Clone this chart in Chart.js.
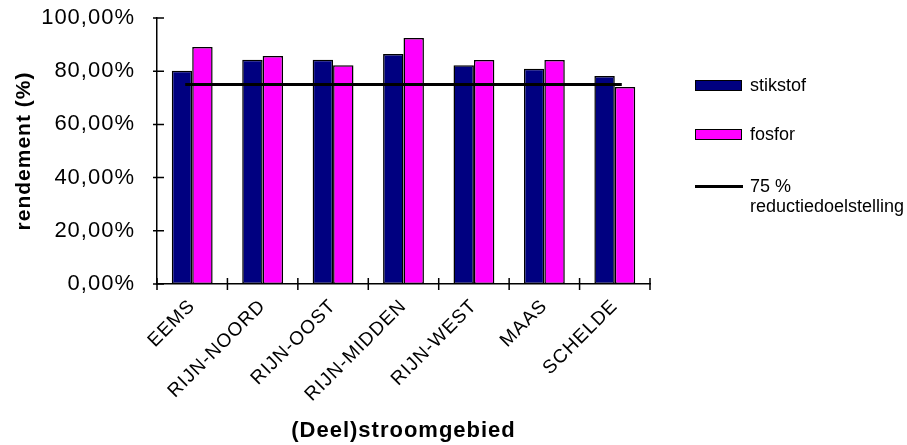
<!DOCTYPE html>
<html>
<head>
<meta charset="utf-8">
<script src="https://cdn.jsdelivr.net/npm/chart.js@4.4.1/dist/chart.umd.min.js"></script>
<style>
  html, body { margin: 0; padding: 0; background: #fff; }
  #wrap { position: relative; width: 907px; height: 445px; }
  #legend { position: absolute; left: 695px; top: 0; font-family: "Liberation Sans", Arial, sans-serif; font-size: 18px; color: #000; }
  .item { position: absolute; left: 0; white-space: nowrap; }
  .swatch { position: absolute; left: 0; width: 45px; height: 9px; border: 1px solid #000; }
  .dash { position: absolute; left: 0; width: 48px; height: 3px; background: #000; }
  .txt { position: absolute; left: 55px; line-height: 20px; }
</style>
</head>
<body>
<div id="wrap">
  <canvas id="chart" width="907" height="445"></canvas>
  <div id="legend">
    <div class="item" style="top:80px"><div class="swatch" style="background:#000080"></div><div class="txt" style="top:-5px">stikstof</div></div>
    <div class="item" style="top:129px"><div class="swatch" style="background:#ff00ff"></div><div class="txt" style="top:-5px">fosfor</div></div>
    <div class="item" style="top:185px"><div class="dash"></div><div class="txt" style="top:-9px">75 %<br>reductiedoelstelling</div></div>
  </div>
</div>
<script>
// (Deel)stroomgebieden en rendementen in %
const gebieden = ['EEMS', 'RIJN-NOORD', 'RIJN-OOST', 'RIJN-MIDDEN', 'RIJN-WEST', 'MAAS', 'SCHELDE'];
const stikstof = [80.2, 84.3, 84.3, 86.5, 82.2, 80.9, 78.2];
const fosfor = [89.1, 85.7, 82.2, 92.5, 84.2, 84.2, 74.1];
const doelstelling = [75, 75, 75, 75, 75, 75, 75];
const yTicks = [0, 20, 40, 60, 80, 100];

const FONT = '"Liberation Sans", Arial, sans-serif';

// tekst in het origineel staat wat ruimer; canvas-state wordt bij resize gewist
const spacing = {
  id: 'spacing',
  beforeUpdate(chart) { chart.ctx.letterSpacing = '1px'; },
  beforeDraw(chart) { chart.ctx.letterSpacing = '1px'; }
};

// Excel-achtige kruisende maatstreepjes
const crossTicks = {
  id: 'crossTicks',
  afterDraw(chart) {
    const ctx = chart.ctx;
    const x = chart.scales.x;
    const y = chart.scales.y;
    const left = chart.chartArea.left;
    const bottom = chart.chartArea.bottom;
    ctx.save();
    ctx.strokeStyle = '#000';
    ctx.lineWidth = 1.5;
    ctx.beginPath();
    yTicks.forEach(v => {
      const py = y.getPixelForValue(v);
      ctx.moveTo(left - 4, py);
      ctx.lineTo(left + 7, py);
    });
    const half = (x.getPixelForValue(1) - x.getPixelForValue(0)) / 2;
    for (let i = 0; i <= gebieden.length; i++) {
      const px = x.getPixelForValue(0) - half + 2 * half * i;
      ctx.moveTo(px, bottom - 6);
      ctx.lineTo(px, bottom + 6);
    }
    ctx.stroke();
    ctx.restore();
  }
};

new Chart(document.getElementById('chart').getContext('2d'), {
  type: 'bar',
  data: {
    labels: gebieden,
    datasets: [
      {
        type: 'line',
        label: '75 % reductiedoelstelling',
        data: doelstelling,
        borderColor: '#000',
        borderWidth: 3,
        pointStyle: 'line',
        pointRadius: 7,
        pointBorderWidth: 3,
        pointBorderColor: '#000',
        fill: false,
        order: 0
      },
      {
        label: 'stikstof',
        data: stikstof,
        backgroundColor: '#000080',
        borderColor: '#000',
        borderWidth: 1.5,
        borderSkipped: false,
        order: 1
      },
      {
        label: 'fosfor',
        data: fosfor,
        backgroundColor: '#ff00ff',
        borderColor: '#000',
        borderWidth: 1.5,
        borderSkipped: false,
        order: 1
      }
    ]
  },
  options: {
    responsive: false,
    animation: false,
    datasets: {
      bar: { barPercentage: 1, categoryPercentage: 0.58 }
    },
    layout: { padding: { left: 0, right: 257, top: 18, bottom: 0 } },
    plugins: {
      legend: { display: false },
      tooltip: { enabled: false }
    },
    scales: {
      x: {
        grid: { display: false, drawTicks: false, offset: true },
        border: { display: true, color: '#000', width: 1.5 },
        ticks: {
          color: '#000',
          font: { family: FONT, size: 19 },
          minRotation: 45,
          maxRotation: 45,
          padding: 11
        },
        title: {
          display: true,
          text: '(Deel)stroomgebied',
          color: '#000',
          font: { family: FONT, size: 22, weight: 'bold' },
          padding: { top: 0, bottom: 1 }
        },
        afterFit(scale) { scale.height = 161; }
      },
      y: {
        min: 0,
        max: 100,
        grid: { display: false, drawTicks: false },
        border: { display: true, color: '#000', width: 1.5 },
        ticks: {
          stepSize: 20,
          color: '#000',
          font: { family: FONT, size: 22 },
          padding: 22,
          callback: v => v.toFixed(2).replace('.', ',') + '%'
        },
        title: {
          display: true,
          text: 'rendement (%)',
          color: '#000',
          font: { family: FONT, size: 21, weight: 'bold' },
          padding: { top: 12, bottom: 0 }
        },
        afterFit(scale) {
          scale.width = 157;
          scale.paddingTop = 0;
          scale.paddingBottom = 0;
        }
      }
    }
  },
  plugins: [spacing, crossTicks]
});
</script>
</body>
</html>
